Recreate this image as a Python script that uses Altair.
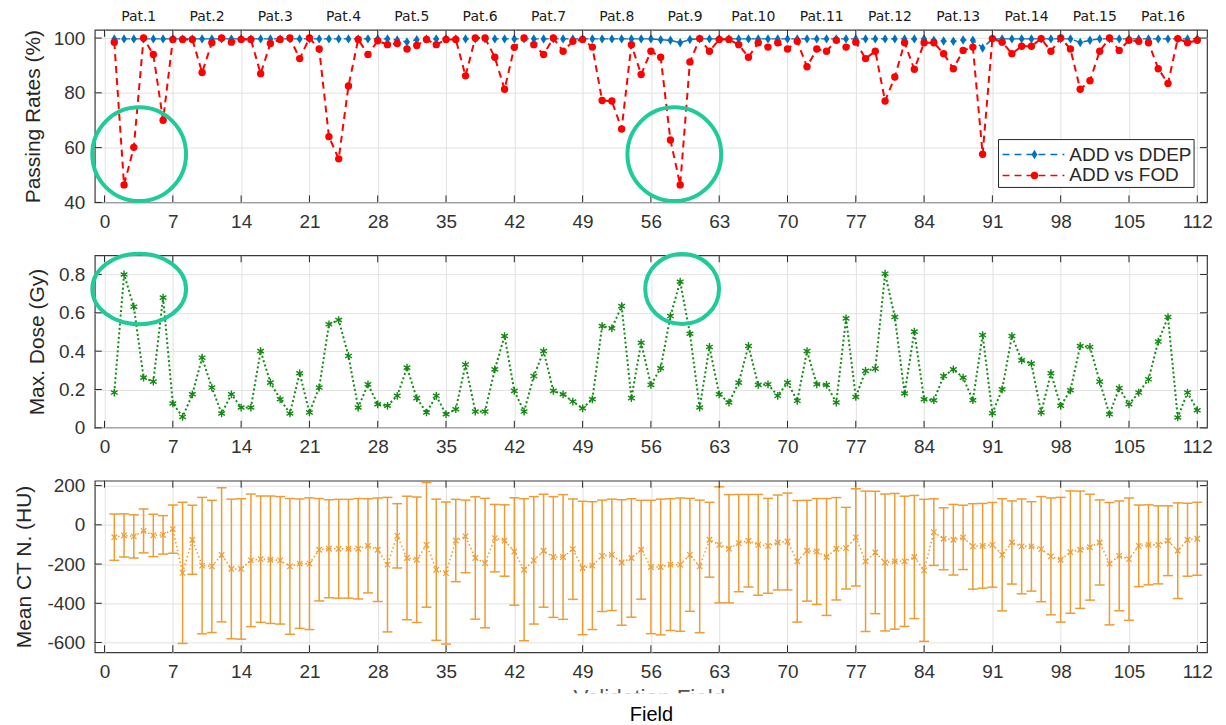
import altair as alt
import pandas as pd

# ---------------- data ----------------
fields = list(range(1, 113))
patients = [f"Pat.{i}" for i in range(1, 17)]

pass_ddep = [99.7, 99.7, 99.7, 99.7, 99.7, 99.7, 99.7, 99.7, 99.7, 99.7,
             99.7, 99.7, 99.7, 99.7, 99.7, 99.7, 99.7, 99.7, 99.7, 99.7,
             99.7, 99.7, 99.7, 99.7, 99.7, 99.7, 99.7, 99.7, 99.7, 99.3,
             98.6, 99.4, 99.7, 99.7, 99.7, 99.7, 99.7, 99.7, 99.7, 99.7,
             99.7, 99.7, 99.7, 99.7, 99.7, 99.7, 99.7, 99.7, 99.7, 99.7,
             99.7, 99.7, 99.7, 99.7, 99.7, 99.7, 99.4, 99.2, 98.3, 99.5,
             99.7, 99.7, 99.7, 99.7, 99.7, 99.7, 99.7, 99.7, 99.7, 99.7,
             99.7, 99.7, 99.7, 99.7, 99.7, 99.7, 99.7, 99.7, 99.7, 99.7,
             99.7, 99.7, 99.7, 99.7, 99.2, 98.9, 98.8, 99.3, 99.2, 96.4,
             99.7, 99.7, 99.7, 99.7, 99.7, 99.7, 99.7, 99.7, 99.7, 98.4,
             99.2, 99.7, 99.7, 99.7, 99.7, 99.7, 99.7, 99.7, 99.7, 99.7,
             99.7, 99.7]

pass_fod = [98.5, 46.4, 60.1, 100, 94, 70, 99.5, 99.5, 99.5, 87.4,
            98.3, 100, 98.5, 99.5, 99.5, 87, 98, 99.5, 100, 92.5,
            100, 96, 64, 55.9, 82.5, 99.5, 94, 99, 97.6, 98,
            96, 97.3, 99.5, 97.6, 99.5, 99.5, 86.2, 100, 100, 93,
            81.3, 96.6, 100, 97.6, 94, 100, 95.2, 98.8, 99.5, 96.7,
            77.2, 77, 66.8, 97.6, 86.7, 95.2, 93, 62.8, 46.4, 91.3,
            99.8, 95.2, 99.5, 99.5, 97.6, 93, 98.3, 96.7, 98.3, 96,
            98.8, 89.5, 96, 95.2, 99.2, 96.7, 98.5, 92.5, 95.2, 77,
            85.8, 98.3, 88.6, 98.3, 98.3, 94.3, 88.8, 95.5, 96.7, 57.6,
            99.8, 98.5, 94.3, 97, 97, 99.8, 95.2, 100, 96, 81.3,
            84.4, 95.2, 100, 95.5, 99.2, 98.8, 98.3, 88.8, 83.4, 99.8,
            98.3, 99.2]

max_dose = [0.184, 0.80, 0.632, 0.262, 0.241, 0.679, 0.127, 0.057, 0.175, 0.366,
            0.21, 0.075, 0.175, 0.106, 0.106, 0.40, 0.236, 0.149, 0.075, 0.285,
            0.08, 0.21, 0.54, 0.5625, 0.375, 0.106, 0.227, 0.123, 0.115, 0.167,
            0.314, 0.155, 0.08, 0.167, 0.071, 0.097, 0.33, 0.085, 0.085, 0.305,
            0.479, 0.193, 0.085, 0.27, 0.40, 0.193, 0.175, 0.137, 0.102, 0.149,
            0.531, 0.519, 0.635, 0.155, 0.444, 0.224, 0.311, 0.583, 0.762, 0.491,
            0.106, 0.422, 0.175, 0.132, 0.236, 0.427, 0.224, 0.227, 0.167, 0.236,
            0.141, 0.40, 0.227, 0.224, 0.132, 0.571, 0.161, 0.297, 0.309, 0.804,
            0.578, 0.179, 0.502, 0.149, 0.144, 0.27, 0.305, 0.262, 0.144, 0.484,
            0.076, 0.201, 0.479, 0.352, 0.335, 0.08, 0.285, 0.115, 0.196, 0.427,
            0.422, 0.241, 0.071, 0.207, 0.123, 0.184, 0.253, 0.45, 0.578, 0.054,
            0.184, 0.092]

ct_mean = [-63, -54, -59, -31, -54, -51, -22, -245, -76, -208,
           -212, -153, -225, -225, -181, -175, -178, -181, -212, -198,
           -198, -127, -122, -122, -122, -122, -107, -127, -203, -56,
           -169, -178, -102, -229, -246, -80, -59, -169, -195, -68,
           -80, -136, -229, -181, -132, -164, -164, -124, -220, -208,
           -158, -153, -192, -169, -127, -215, -215, -203, -203, -153,
           -212, -76, -102, -122, -93, -81, -102, -107, -90, -85,
           -186, -132, -136, -164, -122, -119, -64, -186, -141, -192,
           -186, -186, -164, -232, -37, -71, -76, -64, -110, -107,
           -102, -153, -90, -110, -110, -124, -161, -178, -139, -127,
           -114, -90, -198, -158, -175, -107, -102, -102, -81, -132,
           -76, -71]

ct_std = [118, 110, 110, 112, 108, 98, 123, 360, 176, 348,
          337, 342, 356, 358, 338, 322, 325, 325, 346, 330,
          336, 261, 250, 252, 252, 256, 240, 264, 343, 164,
          315, 320, 318, 360, 362, 210, 185, 312, 330, 172,
          182, 274, 362, 325, 288, 308, 318, 256, 340, 326,
          284, 284, 320, 302, 252, 340, 346, 336, 340, 288,
          338, 191, 296, 276, 248, 236, 257, 242, 242, 247,
          310, 257, 270, 298, 261, 208, 248, 358, 312, 349,
          346, 332, 314, 362, 170, 158, 180, 164, 218, 216,
          216, 286, 212, 242, 228, 268, 298, 318, 312, 299,
          270, 217, 312, 280, 312, 208, 204, 199, 178, 244,
          186, 186]

x_ticks = list(range(0, 113, 7))
top_ticks = [40, 60, 80, 100]
mid_ticks = [0, 0.2, 0.4, 0.6, 0.8]
bot_ticks = [-600, -400, -200, 0, 200]

# annotation ellipses: (field, value) / (field, value, width px, height ratio)
top_marks = [(3.55, 57.6), (58.4, 57.6)]
mid_marks = [(3.55, 0.724, 94, 0.75), (59.2, 0.724, 74, 0.95)]

# ---------------- style ----------------
FONT = "Liberation Sans"
W, H, HB = 1115, 173, 172
XDOM = [-1, 113]
BLUE = "#0072BD"
RED = "#FF0000"
GREEN = "#138a13"
ORANGE = "#EE9C33"
TEAL = "#1ECB99"
DARK = "#262626"
TICK = 7

DIAMOND = "M0,-1L0.62,0L0,1L-0.62,0Z"
ASTER = "M0,-1L0,1M-0.87,-0.5L0.87,0.5M-0.87,0.5L0.87,-0.5"
XMARK = "M-1,-1L1,1M-1,1L1,-1"


def ellipse_path(r):
    k = 0.5523
    return (f"M1,0 C1,{k*r:.4f} {k:.4f},{r:.4f} 0,{r:.4f} "
            f"C{-k:.4f},{r:.4f} -1,{k*r:.4f} -1,0 "
            f"C-1,{-k*r:.4f} {-k:.4f},{-r:.4f} 0,{-r:.4f} "
            f"C{k:.4f},{-r:.4f} 1,{-k*r:.4f} 1,0 Z")


def enc_x(title=None):
    kw = dict(values=x_ticks, grid=True, labelPadding=10, labelFlush=False)
    if title:
        kw.update(title=title, titleY=62, titleBaseline="middle", titleColor="#000000",
                  titleFontSize=20)
    else:
        kw.update(title=None)
    return alt.X("field:Q", scale=alt.Scale(domain=XDOM, nice=False, zero=False),
                 axis=alt.Axis(**kw))


def enc_y(col, dom, ticks, title, title_x, label_expr=None, fmt=None):
    kw = dict(values=ticks, grid=True, title=title, titleX=title_x,
              titleBaseline="middle", labelPadding=10)
    if label_expr:
        kw["labelExpr"] = label_expr
    if fmt:
        kw["format"] = fmt
    return alt.Y(f"{col}:Q", scale=alt.Scale(domain=dom, nice=False, zero=False),
                 axis=alt.Axis(**kw))


def frame_ticks(ex, ey, yvals, h):
    """inward box ticks (MATLAB style) on all four sides"""
    xdf = pd.DataFrame({"field": x_ticks})
    ydf = pd.DataFrame({"tv": yvals})
    base_x = alt.Chart(xdf)
    base_y = alt.Chart(ydf)
    t1 = base_x.mark_rule(color=DARK, strokeWidth=1).encode(x=ex, y=alt.value(h), y2=alt.value(h - TICK))
    t2 = base_x.mark_rule(color=DARK, strokeWidth=1).encode(x=ex, y=alt.value(0), y2=alt.value(TICK))
    t3 = base_y.mark_rule(color=DARK, strokeWidth=1).encode(y=ey, x=alt.value(0), x2=alt.value(TICK))
    t4 = base_y.mark_rule(color=DARK, strokeWidth=1).encode(y=ey, x=alt.value(W - TICK), x2=alt.value(W))
    return [t1, t2, t3, t4]


# ---------------- top panel ----------------
top_df = pd.DataFrame({"field": fields, "ddep": pass_ddep, "fod": pass_fod})
TOPDOM = [40, 103]
TITLE_TOP = "Passing Rates (%)"
ex = enc_x()


def ey_top(col):
    return enc_y(col, TOPDOM, top_ticks, TITLE_TOP, -61)


base = alt.Chart(top_df)
l_ddep = base.mark_line(color=BLUE, strokeDash=[6, 4], strokeWidth=1.5).encode(x=ex, y=ey_top("ddep"))
p_ddep = base.mark_point(shape=DIAMOND, filled=True, size=90, color=BLUE, opacity=1).encode(
    x=ex, y=ey_top("ddep"))
l_fod = base.mark_line(color=RED, strokeDash=[7, 5], strokeWidth=2).encode(x=ex, y=ey_top("fod"))
p_fod = base.mark_point(shape="circle", filled=True, size=55, color=RED, opacity=1).encode(
    x=ex, y=ey_top("fod"))

pat_df = pd.DataFrame({"field": [3.5 + 7 * i for i in range(len(patients))], "name": patients})
pat_text = alt.Chart(pat_df).mark_text(font="DejaVu Sans", fontSize=14, color="#1a1a1a",
                                       baseline="middle").encode(
    x=ex, y=alt.value(-13), text="name:N")

one = alt.Chart(pd.DataFrame({"a": [0]}))
LX0, LX1, LY0, LY1 = 906, 1102, 110, 158
leg_box = one.mark_rect(fill="white", stroke=DARK, strokeWidth=1).encode(
    x=alt.value(LX0), x2=alt.value(LX1), y=alt.value(LY0), y2=alt.value(LY1))
leg_items = []
for label, yy, col, shp, sz in [("ADD vs DDEP", 125, BLUE, DIAMOND, 90),
                                ("ADD vs FOD", 146, RED, "circle", 55)]:
    leg_items.append(one.mark_rule(color=col, strokeDash=[7, 5], strokeWidth=1.6).encode(
        x=alt.value(LX0 + 4), x2=alt.value(LX0 + 66), y=alt.value(yy)))
    leg_items.append(one.mark_point(shape=shp, filled=True, size=sz, color=col, opacity=1).encode(
        x=alt.value(LX0 + 36), y=alt.value(yy)))
    leg_items.append(one.mark_text(text=label, font=FONT, fontSize=19, color=DARK, align="left",
                                   baseline="middle").encode(x=alt.value(LX0 + 71), y=alt.value(yy)))

top_ann_df = pd.DataFrame({"field": [m[0] for m in top_marks], "av": [m[1] for m in top_marks]})
top_ann = alt.Chart(top_ann_df).mark_point(shape=ellipse_path(1.0), filled=False, size=94 * 94,
                                          stroke=TEAL, strokeWidth=4, opacity=1).encode(
    x=ex, y=ey_top("av"))

top = alt.layer(
    l_ddep, p_ddep, l_fod, p_fod,
    *frame_ticks(ex, ey_top("tv"), top_ticks, H),
    pat_text, leg_box, *leg_items, top_ann
).properties(width=W, height=H)

# ---------------- middle panel ----------------
mid_df = pd.DataFrame({"field": fields, "dose": max_dose})
MIDDOM = [0, 0.9]
TITLE_MID = "Max. Dose (Gy)"


def ey_mid(col):
    return enc_y(col, MIDDOM, mid_ticks, TITLE_MID, -57, fmt="~g")


mb = alt.Chart(mid_df)
l_dose = mb.mark_line(color=GREEN, strokeDash=[2, 2.5], strokeWidth=2).encode(x=ex, y=ey_mid("dose"))
p_dose = mb.mark_point(shape=ASTER, filled=False, size=60, stroke=GREEN, strokeWidth=1.4,
                       opacity=1).encode(x=ex, y=ey_mid("dose"))
mid_anns = []
for fx, fy, wpx, ratio in mid_marks:
    d = pd.DataFrame({"field": [fx], "av": [fy]})
    mid_anns.append(alt.Chart(d).mark_point(shape=ellipse_path(ratio), filled=False, size=wpx * wpx,
                                            stroke=TEAL, strokeWidth=4, opacity=1).encode(
        x=ex, y=ey_mid("av")))

mid = alt.layer(
    l_dose, p_dose, *frame_ticks(ex, ey_mid("tv"), mid_ticks, H), *mid_anns
).properties(width=W, height=H)

# ---------------- bottom panel ----------------
bot_df = pd.DataFrame({"field": fields, "mean": ct_mean, "std": ct_std})
bot_df["lo"] = bot_df["mean"] - bot_df["std"]
bot_df["hi"] = bot_df["mean"] + bot_df["std"]
BOTDOM = [-650, 225]
TITLE_BOT = "Mean CT N. (HU)"
exb = enc_x("Field")


def ey_bot(col):
    return enc_y(col, BOTDOM, bot_ticks, TITLE_BOT, -70, label_expr="'' + datum.value")


bb = alt.Chart(bot_df)
bars = bb.mark_rule(color=ORANGE, strokeWidth=1.5).encode(x=exb, y=ey_bot("lo"), y2="hi:Q")
cap_lo = bb.mark_tick(color=ORANGE, orient="horizontal", size=10, thickness=1.5, opacity=1).encode(
    x=exb, y=ey_bot("lo"))
cap_hi = bb.mark_tick(color=ORANGE, orient="horizontal", size=10, thickness=1.5, opacity=1).encode(
    x=exb, y=ey_bot("hi"))
l_mean = bb.mark_line(color=ORANGE, strokeDash=[1.5, 2.5], strokeWidth=1.6).encode(x=exb, y=ey_bot("mean"))
p_mean = bb.mark_point(shape=XMARK, filled=False, size=30, stroke=ORANGE, strokeWidth=1.2,
                       opacity=1).encode(x=exb, y=ey_bot("mean"))

# partially hidden old axis caption under the tick labels (only its top sliver shows)
ghost = one.mark_text(text="Validation Field", font=FONT, fontSize=22.5, color="#555555",
                      align="center", baseline="alphabetic").encode(
    x=alt.value(556), y=alt.value(HB + 53))
ghost_mask = one.mark_rect(fill="white").encode(
    x=alt.value(440), x2=alt.value(680), y=alt.value(HB + 41), y2=alt.value(HB + 54))

bot = alt.layer(
    bars, cap_lo, cap_hi, l_mean, p_mean, *frame_ticks(exb, ey_bot("tv"), bot_ticks, HB),
    ghost, ghost_mask
).properties(width=W, height=HB)

chart = alt.vconcat(top, mid, bot, spacing=53, bounds="flush").properties(
    padding={"left": 5, "top": 0, "right": 5, "bottom": 0}, background="white"
).configure_axis(
    labelFont=FONT, titleFont=FONT, labelFontSize=19, titleFontSize=21,
    labelColor="#333333", titleColor=DARK, titleFontWeight="normal",
    gridColor="#e2e2e2", gridWidth=1, domain=False, ticks=False
).configure_view(stroke="#3a3a3a", strokeWidth=1.2)

chart.save("out.html", embed_options={"renderer": "svg", "actions": False})
